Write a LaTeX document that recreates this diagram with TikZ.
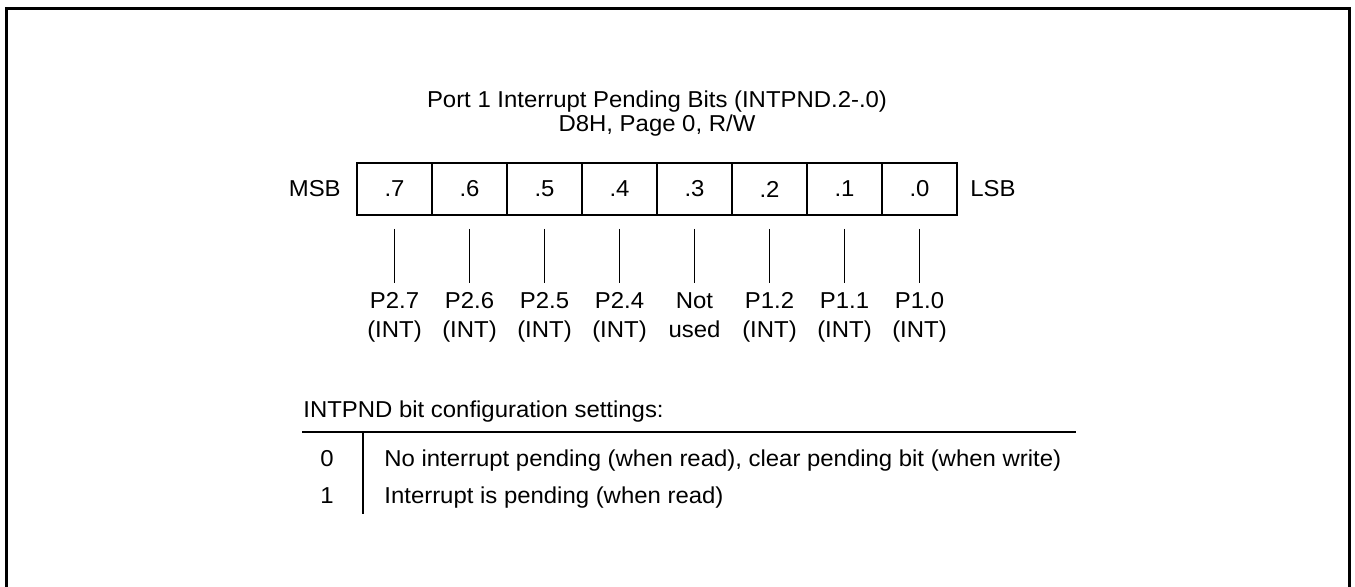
\documentclass[tikz,border=0pt]{standalone}
\usepackage{fontspec}
\setmainfont{Liberation Sans}[FakeStretch=1.04]
\usetikzlibrary{positioning}

\begin{document}
\begin{tikzpicture}[x=0.5pt, y=-0.5pt,
    txt/.style={inner sep=0pt, font=\fontsize{11.5}{12}\selectfont},
    bitcell/.style={draw, line width=0.9pt, minimum width=37.5pt,
        minimum height=26pt, inner sep=0pt, font=\fontsize{11.5}{12}\selectfont},
    bitlbl/.style={inner sep=0pt, anchor=north, align=center,
        font=\fontsize{11.5}{14.5}\selectfont},
    tick/.style={line width=0.5pt, shorten <=6.5pt, shorten >=4.5pt},
    rule/.style={line width=0.75pt},
]
\useasboundingbox (0,0) rectangle (1355,587);
% outer frame (open at the bottom)
\draw[line width=1.5pt] (6.5,600) -- (6.5,8.5) -- (1349,8.5) -- (1349,600);

% Title
\node[txt, align=center] (title) at (657,114)
    {Port 1 Interrupt Pending Bits (INTPND.2-.0)\\D8H, Page 0, R/W};

% Register cells
\foreach \b [count=\i from 0] in {7,6,5,4,3,2,1,0}
    \node[bitcell] (b\b) at (394.5+75*\i,189) {.\b};
\node[txt, left=7.5pt of b7] (msb) {MSB};
\node[txt, right=6pt of b0] (lsb) {LSB};

% Bit labels and ticks
\foreach \b/\top/\bot [count=\i from 0] in {7/P2.7/(INT), 6/P2.6/(INT),
        5/P2.5/(INT), 4/P2.4/(INT), 3/Not/used, 2/P1.2/(INT),
        1/P1.1/(INT), 0/P1.0/(INT)} {
    \node[bitlbl] (l\b) at (394.5+75*\i,292) {\top\\\bot};
    \draw[tick] (b\b.south) -- (l\b.north);
}

% Configuration settings
\node[txt, anchor=base west] (cfg) at (303,418) {INTPND bit configuration settings:};
\coordinate (ruleL) at (302,432);
\coordinate (ruleR) at (1076,432);
\coordinate (sepT) at (363,432);
\coordinate (sepB) at (363,514);
\draw[rule] (ruleL) -- (ruleR);
\draw[rule] (sepT) -- (sepB);
\node[txt, anchor=base] (v0) at (327,467) {0};
\node[txt, anchor=base] (v1) at (327,503) {1};
\node[txt, anchor=base west] (d0) at (384,467)
    {No interrupt pending (when read), clear pending bit (when write)};
\node[txt, anchor=base west] (d1) at (384,503) {Interrupt is pending (when read)};
\end{tikzpicture}
\end{document}
